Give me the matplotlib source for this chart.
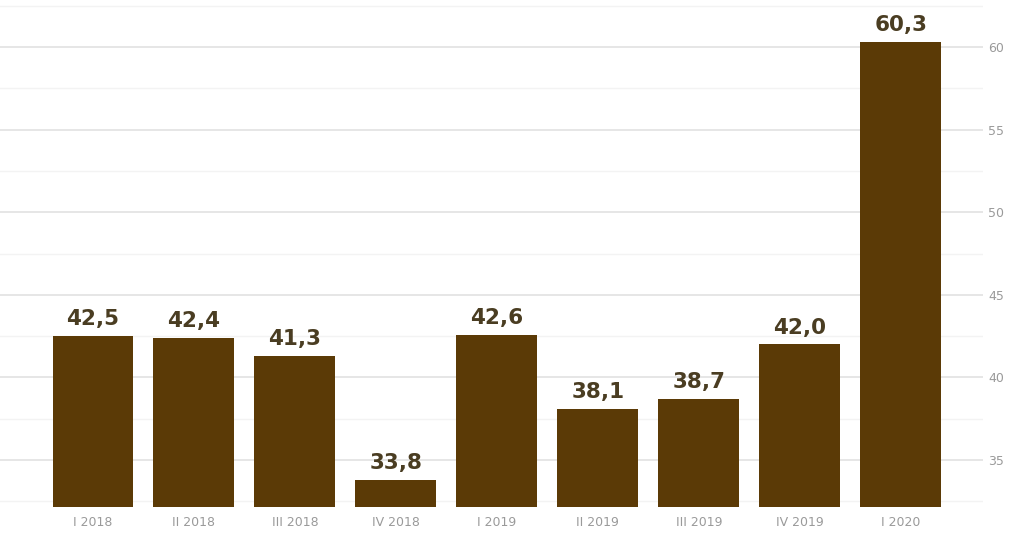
import matplotlib
matplotlib.use("Agg")
import matplotlib.pyplot as plt
from matplotlib.ticker import MultipleLocator

plt.rcParams['font.family'] = ['DejaVu Sans']

quarters = ["I 2018", "II 2018", "III 2018", "IV 2018", "I 2019",
            "II 2019", "III 2019", "IV 2019", "I 2020"]
values = [42.5, 42.4, 41.3, 33.8, 42.6, 38.1, 38.7, 42.0, 60.3]

fig = plt.figure(figsize=(10.15, 5.35), dpi=100)
ax = fig.add_axes([0.0, 0.052, 0.968, 0.948])

x = range(len(values))
ax.bar(x, values, width=0.8, color="#5b3a06", zorder=3)

for i, v in enumerate(values):
    ax.text(i, v + 0.65, f"{v:.1f}".replace(".", ","), ha="center", va="baseline",
            fontsize=15.5, fontweight="bold", color="#4a3d22", zorder=4)

ax.set_xlim(-0.92, 8.81)
ax.set_ylim(32.15, 62.85)
ax.set_xticks(list(x))
ax.set_xticklabels(quarters)
ax.yaxis.set_major_locator(MultipleLocator(5))
ax.yaxis.set_minor_locator(MultipleLocator(2.5))
ax.set_yticks([35, 40, 45, 50, 55, 60])
ax.yaxis.tick_right()
ax.tick_params(axis="y", which="both", length=0, pad=4, labelsize=9, labelcolor="#9a9a9a")
ax.tick_params(axis="x", length=0, pad=6, labelsize=9, labelcolor="#9a9a9a")
ax.grid(axis="y", which="major", color="#e2e2e2", linewidth=1.2, zorder=0)
ax.grid(axis="y", which="minor", color="#f3f3f3", linewidth=1.0, zorder=0)
for s in ax.spines.values():
    s.set_visible(False)

fig.savefig("out.png", dpi=100)
